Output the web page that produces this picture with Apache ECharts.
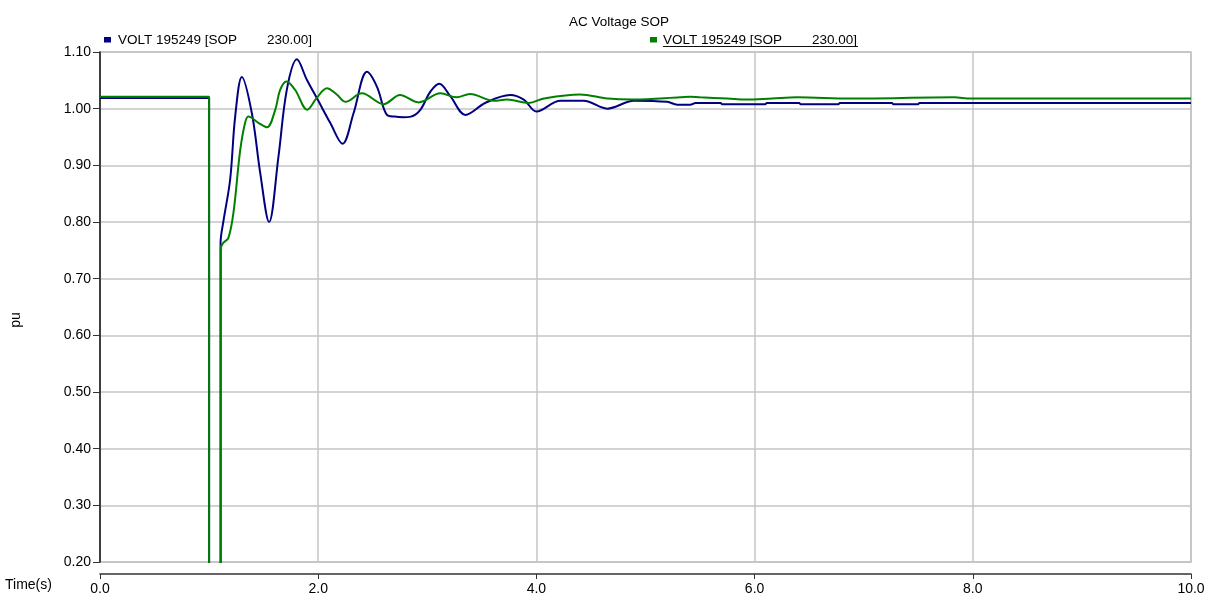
<!DOCTYPE html>
<html>
<head>
<meta charset="utf-8">
<script src="https://cdn.jsdelivr.net/npm/echarts@6/dist/echarts.min.js"></script>
<style>
  html, body { margin: 0; padding: 0; background: #fff; }
  #chart { width: 1209px; height: 596px; }
</style>
</head>
<body>
<div id="chart"></div>
<script>
// Time axis ticks and value axis ticks
const timeTicks = [0, 2, 4, 6, 8, 10];
const puTicks = [0.2, 0.3, 0.4, 0.5, 0.6, 0.7, 0.8, 0.9, 1.0, 1.1];

const seriesLabel = 'VOLT 195249 [SOP        230.00]';

// Blue trace: bus voltage (pu) versus time (s)
const blueTime = [0, 0.99, 1.0, 1.0, 1.105, 1.105, 1.131, 1.193, 1.239, 1.300, 1.392, 1.468, 1.55, 1.636,
  1.713, 1.805, 1.896, 1.995, 2.11, 2.223, 2.324, 2.447, 2.538, 2.63, 2.70, 2.78, 2.85, 2.936, 3.028,
  3.11, 3.211, 3.35, 3.53, 3.76, 3.884, 4.0, 4.22, 4.434, 4.649, 4.893, 5.199, 5.291, 5.41, 5.46,
  5.69, 5.70, 6.10, 6.11, 6.41, 6.42, 6.77, 6.78, 7.26, 7.27, 7.50, 7.51, 10.0];
const blueVolt = [1.019, 1.019, 1.019, 0.10, 0.10, 0.763, 0.801, 0.875, 0.986, 1.056, 0.992, 0.887, 0.800, 0.916,
  1.034, 1.087, 1.051, 1.016, 0.975, 0.938, 0.992, 1.065, 1.039, 0.989, 0.986, 0.985, 0.986, 0.998, 1.030,
  1.044, 1.022, 0.989, 1.010, 1.024, 1.016, 0.995, 1.014, 1.014, 1.000, 1.014, 1.012, 1.007, 1.007, 1.010,
  1.010, 1.008, 1.008, 1.010, 1.010, 1.008, 1.008, 1.010, 1.010, 1.008, 1.008, 1.010, 1.010];

// Green trace: bus voltage (pu) versus time (s)
const greenTime = [0, 0.99, 1.0, 1.0, 1.107, 1.107, 1.13, 1.177, 1.223, 1.284, 1.33, 1.36, 1.452, 1.53,
  1.606, 1.651, 1.71, 1.789, 1.90, 1.987, 2.08, 2.17, 2.25, 2.40, 2.60, 2.75, 2.92, 3.12, 3.27, 3.39,
  3.61, 3.73, 3.93, 4.07, 4.40, 4.65, 4.89, 5.32, 5.41, 5.50, 5.75, 5.92, 6.16, 6.39, 6.88, 7.83, 7.98, 10.0];
const greenVolt = [1.021, 1.021, 1.021, 0.10, 0.10, 0.754, 0.763, 0.772, 0.816, 0.925, 0.975, 0.986, 0.975, 0.967,
  0.998, 1.033, 1.048, 1.033, 0.998, 1.019, 1.036, 1.025, 1.012, 1.027, 1.008, 1.024, 1.011, 1.027, 1.020, 1.026,
  1.014, 1.016, 1.010, 1.018, 1.025, 1.018, 1.016, 1.020, 1.021, 1.020, 1.018, 1.016, 1.018, 1.020, 1.018, 1.020, 1.018, 1.018];

const zip = (t, v) => t.map((x, i) => [x, v[i]]);

const FONT = '"Liberation Sans", Arial, sans-serif';
const chart = echarts.init(document.getElementById('chart'), null, { renderer: 'canvas' });

chart.setOption({
  animation: false,
  backgroundColor: '#ffffff',
  title: {
    text: 'AC Voltage SOP',
    left: 614, top: 10, textAlign: 'center',
    textStyle: { fontFamily: FONT, fontSize: 13.5, fontWeight: 'normal', color: '#000' }
  },
  grid: {
    left: 100, right: 18, top: 52, bottom: 34,
    show: true, borderColor: '#b8b8b8', borderWidth: 1.5
  },
  xAxis: {
    type: 'value', min: timeTicks[0], max: timeTicks[timeTicks.length - 1], interval: 2,
    offset: 12,
    axisLine: { show: true, lineStyle: { color: '#333', width: 1.5 } },
    axisTick: { show: true, length: 5, lineStyle: { color: '#333' } },
    axisLabel: { margin: 8, fontFamily: FONT, fontSize: 14, color: '#000', formatter: v => v.toFixed(1) },
    splitLine: { show: true, lineStyle: { color: '#c4c4c4', width: 1.5 } }
  },
  yAxis: {
    type: 'value', min: puTicks[0], max: puTicks[puTicks.length - 1], interval: 0.1,
    axisLine: { show: true, lineStyle: { color: '#111', width: 1.5 } },
    axisTick: { show: true, length: 7, lineStyle: { color: '#333' } },
    axisLabel: { margin: 9, fontFamily: FONT, fontSize: 14, color: '#000', formatter: v => v.toFixed(2) },
    splitLine: { show: true, lineStyle: { color: '#c4c4c4', width: 1.5 } }
  },
  series: [
    {
      name: 'blue', type: 'line', data: zip(blueTime, blueVolt), showSymbol: false, clip: true,
      smooth: 0.35, lineStyle: { color: '#000080', width: 2 }, z: 3
    },
    {
      name: 'green', type: 'line', data: zip(greenTime, greenVolt), showSymbol: false, clip: true,
      smooth: 0.35, lineStyle: { color: '#008000', width: 2 }, z: 4
    }
  ],
  graphic: [
    { type: 'rect', shape: { x: 104, y: 37, width: 7, height: 5.5 }, style: { fill: '#000080' } },
    { type: 'text', x: 118, y: 40, style: { text: seriesLabel, font: '13.5px ' + FONT, fill: '#000', textVerticalAlign: 'middle' } },
    { type: 'rect', shape: { x: 650, y: 37, width: 7, height: 5.5 }, style: { fill: '#008000' } },
    { type: 'text', x: 663, y: 40, style: { text: seriesLabel, font: '13.5px ' + FONT, fill: '#000', textVerticalAlign: 'middle' } },
    { type: 'line', shape: { x1: 663, y1: 46.5, x2: 858, y2: 46.5 }, style: { stroke: '#111', lineWidth: 1 } },
    { type: 'text', x: 16, y: 320, rotation: Math.PI / 2, style: { text: 'pu', font: '14px ' + FONT, fill: '#000', textAlign: 'center', textVerticalAlign: 'middle' } },
    { type: 'text', x: 5, y: 585, style: { text: 'Time(s)', font: '14px ' + FONT, fill: '#000', textVerticalAlign: 'middle' } }
  ]
});
</script>
</body>
</html>
